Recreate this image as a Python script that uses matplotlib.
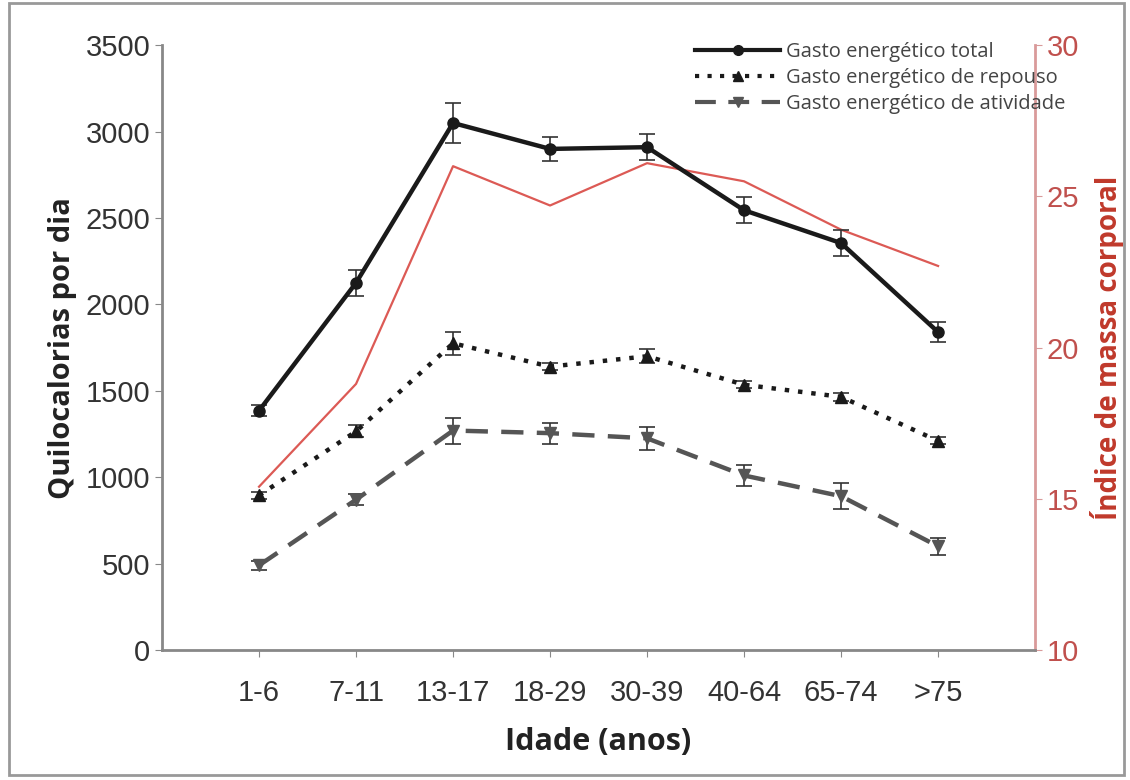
import matplotlib.pyplot as plt
import matplotlib.patches as patches
from matplotlib.lines import Line2D
import numpy as np

# Age groups
idades = ["1-6", "7-11", "13-17", "18-29", "30-39", "40-64", "65-74", ">75"]

# Energy expenditure (kcal/day) with error bars
gasto_total = [1385, 2125, 3050, 2900, 2910, 2545, 2355, 1840]
erro_total = [30, 75, 115, 70, 75, 75, 75, 60]
gasto_repouso = [895, 1265, 1775, 1640, 1700, 1535, 1465, 1210]
erro_repouso = [20, 35, 65, 20, 40, 20, 25, 20]
gasto_atividade = [490, 870, 1270, 1255, 1225, 1010, 890, 600]
erro_atividade = [25, 30, 75, 60, 65, 60, 75, 50]

# Body mass index (right axis)
imc = [15.4, 18.8, 26.0, 24.7, 26.1, 25.5, 23.9, 22.7]

cinza = "#888888"
vermelho = "#dc5a55"

fig = plt.figure(figsize=(11.3, 7.8), dpi=100)
ax = fig.add_axes([0.1434, 0.1667, 0.7726, 0.7753])
x = np.arange(len(idades))

estilos = [
    (gasto_total, erro_total, "#1a1a1a", "-", "o", "Gasto energético total"),
    (gasto_repouso, erro_repouso, "#1a1a1a", (0, (1, 2)), "^",
     "Gasto energético de repouso"),
    (gasto_atividade, erro_atividade, "#555555", (0, (5, 3)), "v",
     "Gasto energético de atividade"),
]
handles = []
for vals, errs, cor, ls, mk, nome in estilos:
    ax.errorbar(x, vals, yerr=errs, color=cor, lw=3.2, ls=ls, marker=mk,
                ms=8, capsize=6, elinewidth=1.2, capthick=1.2,
                ecolor="#333333", zorder=4)
    handles.append(Line2D([], [], color=cor, lw=3, ls=ls, marker=mk, ms=7,
                          label=nome))

ax.set_xlim(-1, 8)
ax.set_ylim(0, 3500)
ax.set_yticks(np.arange(0, 3501, 500))
ax.set_xticks(x)
ax.set_xticklabels(idades, fontsize=21, family="Liberation Sans", color="#333333")
ax.tick_params(axis="y", labelsize=21, colors="#333333", length=5, color=cinza)
ax.tick_params(axis="x", length=5, color=cinza, pad=16)
for lab in ax.get_yticklabels():
    lab.set_family("Liberation Sans")
for s in ["top", "right"]:
    ax.spines[s].set_visible(False)
for s in ["left", "bottom"]:
    ax.spines[s].set_color(cinza)
    ax.spines[s].set_linewidth(2)

ax.set_ylabel("Quilocalorias por dia", fontsize=21, fontweight="bold",
              family="Open Sans", color="#222222", labelpad=6)
ax.set_xlabel("Idade (anos)", fontsize=22, fontweight="bold",
              family="Open Sans", color="#222222", labelpad=14)

ax2 = ax.twinx()
ax2.plot(x, imc, color=vermelho, lw=1.6, zorder=3)
ax2.set_ylim(10, 30)
ax2.set_yticks([10, 15, 20, 25, 30])
ax2.tick_params(axis="y", labelsize=21, colors="#c0504d", length=5,
                color="#d99a9a")
for lab in ax2.get_yticklabels():
    lab.set_family("Liberation Sans")
for s in ["top", "left", "bottom"]:
    ax2.spines[s].set_visible(False)
ax2.spines["right"].set_color("#d99a9a")
ax2.spines["right"].set_linewidth(2)
ax2.set_ylabel("Índice de massa corporal", fontsize=20, fontweight="bold",
               family="Open Sans", color="#c0392b", labelpad=8)

ax.set_zorder(ax2.get_zorder() + 1)
ax.patch.set_visible(False)

leg = ax.legend(handles=handles, loc="upper left",
                bbox_to_anchor=(0.59, 1.035), frameon=False,
                handlelength=4.2, handletextpad=0.3, labelspacing=0.3,
                prop={"family": "Open Sans", "size": 14.5})
for t in leg.get_texts():
    t.set_color("#444444")

fig.patches.append(patches.Rectangle((0.008, 0.006), 0.987, 0.99,
                                     transform=fig.transFigure, fill=False,
                                     edgecolor="#999999", lw=2))

fig.savefig("out.png", dpi=100)
